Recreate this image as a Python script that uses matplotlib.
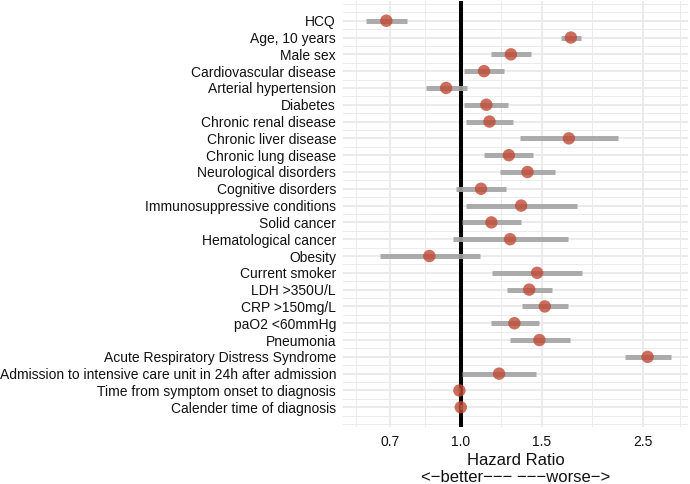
import numpy as np
import matplotlib
matplotlib.use("Agg")
import matplotlib.pyplot as plt
from matplotlib.ticker import FixedLocator, NullFormatter

plt.rcParams['font.family'] = ['Liberation Sans', 'DejaVu Sans']

variables = ["HCQ", "Age, 10 years", "Male sex", "Cardiovascular disease",
             "Arterial hypertension", "Diabetes", "Chronic renal disease",
             "Chronic liver disease", "Chronic lung disease", "Neurological disorders",
             "Cognitive disorders", "Immunosuppressive conditions", "Solid cancer",
             "Hematological cancer", "Obesity", "Current smoker", "LDH >350U/L",
             "CRP >150mg/L", "paO2 <60mmHg", "Pneumonia",
             "Acute Respiratory Distress Syndrome",
             "Admission to intensive care unit in 24h after admission",
             "Time from symptom onset to diagnosis", "Calender time of diagnosis"]
hr = [0.688, 1.738, 1.286, 1.124, 0.929, 1.137, 1.155, 1.721, 1.273, 1.398,
      1.107, 1.354, 1.166, 1.281, 0.854, 1.467, 1.410, 1.525, 1.309, 1.484,
      2.555, 1.212, 0.993, 1.000]
ci_low = [0.621, 1.650, 1.163, 1.017, 0.841, 1.017, 1.027, 1.347, 1.124, 1.220,
          0.975, 1.027, 1.005, 0.962, 0.666, 1.169, 1.260, 1.360, 1.163, 1.283,
          2.284, 1.005, 0.988, 0.996]
ci_high = [0.762, 1.827, 1.423, 1.245, 1.031, 1.270, 1.299, 2.197, 1.438, 1.601,
           1.254, 1.794, 1.356, 1.712, 1.104, 1.837, 1.580, 1.709, 1.484, 1.729,
           2.868, 1.458, 0.998, 1.004]
x_breaks = [0.7, 1.0, 1.5, 2.5]
x_labels = ["0.7", "1.0", "1.5", "2.5"]
x_minor = [0.590, 0.837, 1.225, 1.936, 3.0]

fig = plt.figure(figsize=(6.9, 4.84), dpi=100)
ax = fig.add_axes([343/690, 1 - 426.6/484, (688-343)/690, (426.6-1.4)/484])

n = len(variables)
y = np.arange(n)

ax.set_xscale('log')
ax.set_xlim(0.5535, 3.13)
ax.set_ylim(n - 1 + 1.15, -1.15)

# gridlines
for v in x_breaks:
    ax.axvline(v, color='#EBEBEB', lw=1.4, zorder=0)
for v in x_minor:
    ax.axvline(v, color='#EBEBEB', lw=0.7, zorder=0)
for yy in y:
    ax.axhline(yy, color='#EBEBEB', lw=1.4, zorder=0)
for yy in np.arange(-1, n + 0.6, 0.5):
    if yy not in y:
        ax.axhline(yy, color='#EBEBEB', lw=0.7, zorder=0)

ax.axvline(1.0, color='black', lw=2.9, zorder=2)
ax.hlines(y, ci_low, ci_high, color='#a3a3a3', lw=3.6, alpha=0.9, zorder=3)
ax.scatter(hr, y, s=80, color='#c04a36', alpha=0.8, edgecolors='none', zorder=4)

ax.xaxis.set_major_locator(FixedLocator(x_breaks))
ax.xaxis.set_minor_locator(FixedLocator(x_minor))
ax.xaxis.set_minor_formatter(NullFormatter())
ax.set_xticklabels(x_labels)
ax.set_yticks(y)
ax.set_yticklabels(variables)
ax.tick_params(axis='both', which='both', length=0, labelsize=10, labelcolor='#111111')
ax.tick_params(axis='y', pad=5)
ax.tick_params(axis='x', pad=6)
for s in ax.spines.values():
    s.set_visible(False)

ax.set_xlabel("Hazard Ratio\n<\u2212better\u2212\u2212\u2212 \u2212\u2212\u2212worse\u2212>",
              fontsize=12, labelpad=3, linespacing=1.12, color='#111111')

fig.savefig("out.png", dpi=100)
